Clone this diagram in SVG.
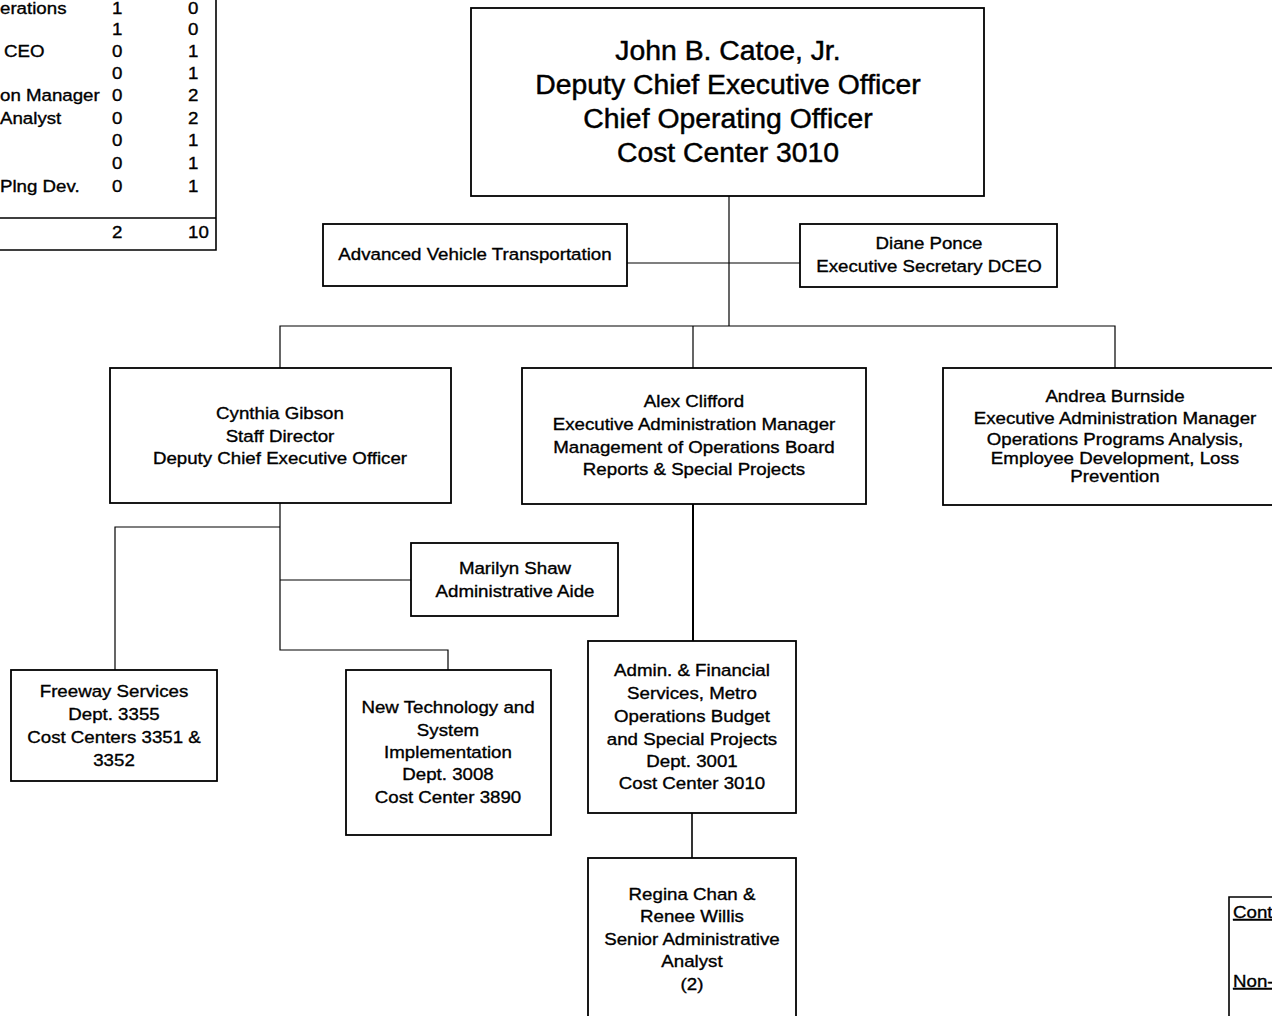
<svg xmlns="http://www.w3.org/2000/svg" width="1272" height="1016" viewBox="0 0 1272 1016">
<style>
text{font-family:"Liberation Sans",Arial,sans-serif;fill:#000;stroke:#000;stroke-width:0.35}
.t{font-size:17px;text-anchor:middle}
.big{font-size:27px;text-anchor:middle;stroke-width:0.45}
.tb{font-size:17px}
.box{fill:#fff;stroke:#000;stroke-width:1.8}
.c{fill:none;stroke:#000;stroke-width:1.2}
.ul{text-decoration:underline}
</style>
<rect width="1272" height="1016" fill="#fff"/>
<g id="table-left">
<path class="c" d="M216 0V250H0M0 218H216" style="stroke-width:1.6"/>
<g transform="scale(1.1 1)">
<text class="tb" x="0" y="14">erations</text>
<text class="tb" x="101.8" y="14">1</text><text class="tb" x="170.9" y="14">0</text>
<text class="tb" x="101.8" y="35">1</text><text class="tb" x="170.9" y="35">0</text>
<text class="tb" x="3.6" y="57">CEO</text>
<text class="tb" x="101.8" y="57">0</text><text class="tb" x="170.9" y="57">1</text>
<text class="tb" x="101.8" y="79">0</text><text class="tb" x="170.9" y="79">1</text>
<text class="tb" x="0" y="101">on Manager</text>
<text class="tb" x="101.8" y="101">0</text><text class="tb" x="170.9" y="101">2</text>
<text class="tb" x="0" y="124">Analyst</text>
<text class="tb" x="101.8" y="124">0</text><text class="tb" x="170.9" y="124">2</text>
<text class="tb" x="101.8" y="146">0</text><text class="tb" x="170.9" y="146">1</text>
<text class="tb" x="101.8" y="169">0</text><text class="tb" x="170.9" y="169">1</text>
<text class="tb" x="0" y="192">Plng Dev.</text>
<text class="tb" x="101.8" y="192">0</text><text class="tb" x="170.9" y="192">1</text>
<text class="tb" x="101.8" y="238">2</text><text class="tb" x="170.9" y="238">10</text>
</g>
</g>
<g id="table-right">
<path class="c" d="M1272 897H1229V1016" style="stroke-width:1.6"/>
<g transform="matrix(1.1 0 0 1 1233 0)">
<text class="tb ul" x="0" y="918">Cont</text>
<text class="tb ul" x="0" y="987">Non-</text>
</g>
</g>
<g id="connectors">
<path class="c" d="M729 196V326"/>
<path class="c" d="M627 263H800"/>
<path class="c" d="M280 368V326H1115V368M693 326V368"/>
<path class="c" d="M280 503V650H448V670M280 527H115V670M280 580H411"/>
<path class="c" d="M693 504V641" style="stroke-width:2"/>
<path class="c" d="M692 813V858" style="stroke-width:1.6"/>
</g>
<g id="catoe">
<rect class="box" x="471" y="8" width="513" height="188"/>
<g transform="matrix(1.05 0 0 1 -36.4 0)">
<text class="big" x="728" y="60">John B. Catoe, Jr.</text>
<text class="big" x="728" y="94">Deputy Chief Executive Officer</text>
<text class="big" x="728" y="128">Chief Operating Officer</text>
<text class="big" x="728" y="162">Cost Center 3010</text>
</g>
</g>
<g id="avt">
<rect class="box" x="323" y="224" width="304" height="62"/>
<g transform="matrix(1.1 0 0 1 -47.5 0)">
<text class="t" x="475" y="260">Advanced Vehicle Transportation</text>
</g>
</g>
<g id="ponce">
<rect class="box" x="800" y="224" width="257" height="63"/>
<g transform="matrix(1.1 0 0 1 -92.9 0)">
<text class="t" x="929" y="249">Diane Ponce</text>
<text class="t" x="929" y="272">Executive Secretary DCEO</text>
</g>
</g>
<g id="gibson">
<rect class="box" x="110" y="368" width="341" height="135"/>
<g transform="matrix(1.1 0 0 1 -28 0)">
<text class="t" x="280" y="419">Cynthia Gibson</text>
<text class="t" x="280" y="442">Staff Director</text>
<text class="t" x="280" y="464">Deputy Chief Executive Officer</text>
</g>
</g>
<g id="clifford">
<rect class="box" x="522" y="368" width="344" height="136"/>
<g transform="matrix(1.1 0 0 1 -69.4 0)">
<text class="t" x="694" y="407">Alex Clifford</text>
<text class="t" x="694" y="430">Executive Administration Manager</text>
<text class="t" x="694" y="453">Management of Operations Board</text>
<text class="t" x="694" y="475">Reports &amp;  Special Projects</text>
</g>
</g>
<g id="burnside">
<rect class="box" x="943" y="368" width="340" height="137"/>
<g transform="matrix(1.1 0 0 1 -111.5 0)">
<text class="t" x="1115" y="402">Andrea Burnside</text>
<text class="t" x="1115" y="424">Executive Administration Manager</text>
<text class="t" x="1115" y="445">Operations Programs Analysis,</text>
<text class="t" x="1115" y="464">Employee Development, Loss</text>
<text class="t" x="1115" y="482">Prevention</text>
</g>
</g>
<g id="shaw">
<rect class="box" x="411" y="543" width="207" height="73"/>
<g transform="matrix(1.1 0 0 1 -51.5 0)">
<text class="t" x="515" y="574">Marilyn Shaw</text>
<text class="t" x="515" y="597">Administrative Aide</text>
</g>
</g>
<g id="freeway">
<rect class="box" x="11" y="670" width="206" height="111"/>
<g transform="matrix(1.1 0 0 1 -11.4 0)">
<text class="t" x="114" y="697">Freeway Services</text>
<text class="t" x="114" y="720">Dept. 3355</text>
<text class="t" x="114" y="743">Cost Centers 3351 &amp;</text>
<text class="t" x="114" y="766">3352</text>
</g>
</g>
<g id="newtech">
<rect class="box" x="346" y="670" width="205" height="165"/>
<g transform="matrix(1.1 0 0 1 -44.8 0)">
<text class="t" x="448" y="713">New Technology and</text>
<text class="t" x="448" y="736">System</text>
<text class="t" x="448" y="758">Implementation</text>
<text class="t" x="448" y="780">Dept. 3008</text>
<text class="t" x="448" y="803">Cost Center 3890</text>
</g>
</g>
<g id="admin">
<rect class="box" x="588" y="641" width="208" height="172"/>
<g transform="matrix(1.1 0 0 1 -69.2 0)">
<text class="t" x="692" y="676">Admin. &amp; Financial</text>
<text class="t" x="692" y="699">Services, Metro</text>
<text class="t" x="692" y="722">Operations Budget</text>
<text class="t" x="692" y="745">and Special Projects</text>
<text class="t" x="692" y="767">Dept. 3001</text>
<text class="t" x="692" y="789">Cost Center 3010</text>
</g>
</g>
<g id="chan-willis">
<rect class="box" x="588" y="858" width="208" height="170"/>
<g transform="matrix(1.1 0 0 1 -69.2 0)">
<text class="t" x="692" y="900">Regina Chan &amp;</text>
<text class="t" x="692" y="922">Renee Willis</text>
<text class="t" x="692" y="945">Senior Administrative</text>
<text class="t" x="692" y="967">Analyst</text>
<text class="t" x="692" y="990">(2)</text>
</g>
</g>
</svg>
